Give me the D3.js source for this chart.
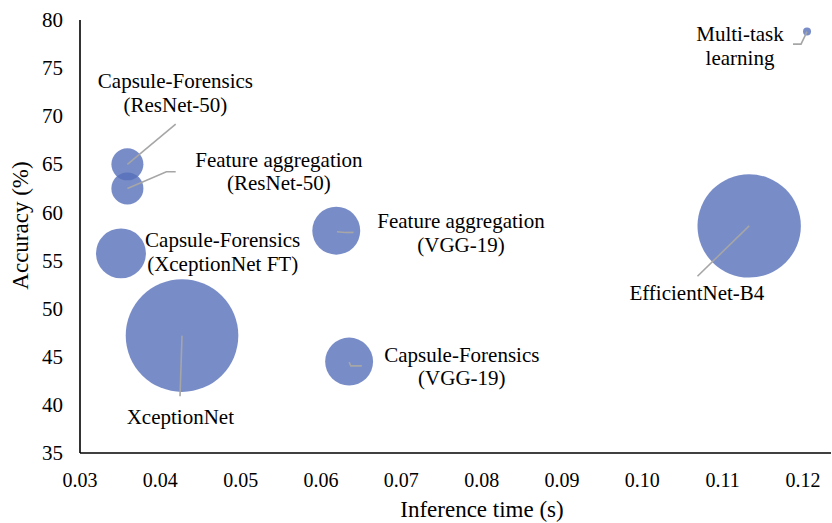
<!DOCTYPE html>
<html>
<head>
<meta charset="utf-8">
<script src="https://cdn.jsdelivr.net/npm/d3@7"></script>
<style>
  html, body { margin: 0; padding: 0; background: #fff; }
  svg { display: block; font-family: "Liberation Serif", "Times New Roman", serif; }
</style>
</head>
<body>
<svg id="chart" width="832" height="523"></svg>
<script>
// ---- data ----
const models = ["Multi-task learning", "Capsule-Forensics (ResNet-50)", "Feature aggregation (ResNet-50)",
  "Capsule-Forensics (XceptionNet FT)", "Feature aggregation (VGG-19)", "XceptionNet",
  "Capsule-Forensics (VGG-19)", "EfficientNet-B4"];
const labelLines = [["Multi-task", "learning"], ["Capsule-Forensics", "(ResNet-50)"], ["Feature aggregation", "(ResNet-50)"],
  ["Capsule-Forensics", "(XceptionNet FT)"], ["Feature aggregation", "(VGG-19)"], ["XceptionNet"],
  ["Capsule-Forensics", "(VGG-19)"], ["EfficientNet-B4"]];
const inferenceTime = [0.1205, 0.0359, 0.0359, 0.0351, 0.0619, 0.0427, 0.0635, 0.1133];
const accuracy = [78.8, 65.0, 62.5, 55.75, 58.1, 47.2, 44.5, 58.6];
const modelSize = [0.116, 1.85, 1.85, 4.5, 4.15, 22.9, 4.15, 19.3];
const xTicks = [0.03, 0.04, 0.05, 0.06, 0.07, 0.08, 0.09, 0.10, 0.11, 0.12];
const yTicks = [35, 40, 45, 50, 55, 60, 65, 70, 75, 80];

// ---- label layout (pixel offsets from bubble centre) ----
const labelOffset = [[-67, 9.5], [48, -76], [151.5, -21.5], [101.7, -6], [124.7, -2.4], [-1.7, 88], [112.7, 0], [-52.3, 74.3]];
const leaderPts = [
  [[0, 0], [-6, 12.6], [-14, 12.6]],
  [[0, 0], [48.3, -40.3]],
  [[0, 0], [39, -16.6], [48.3, -16.6]],
  [],
  [[0.7, 1], [9, 1.8], [17.3, 1.6]],
  [[0, 0], [-2, 60.7]],
  [[0, 0.6], [1.7, 4.3], [12.7, 4.3]],
  [[0, 0], [-51.7, 50.3]]
];

const svg = d3.select("#chart");
const x = d3.scaleLinear().domain([0.03, 0.12]).range([80, 803]);
const y = d3.scaleLinear().domain([35, 80]).range([453, 20]);
const r = d3.scaleSqrt().domain([0, 22.9]).range([0, 56.3]);

const data = models.map((m, i) => ({
  name: m, lines: labelLines[i], x: inferenceTime[i], y: accuracy[i], s: modelSize[i],
  off: labelOffset[i], leader: leaderPts[i]
}));

// axes lines
svg.append("line").attr("x1", x(0.03)).attr("x2", 831).attr("y1", y(35)).attr("y2", y(35))
  .attr("stroke", "#000").attr("stroke-width", 1.6);
svg.append("line").attr("x1", x(0.03)).attr("x2", x(0.03)).attr("y1", y(35)).attr("y2", y(80))
  .attr("stroke", "#000").attr("stroke-width", 1.6);

// tick labels
svg.append("g").selectAll("text").data(xTicks).join("text")
  .attr("x", d => x(d)).attr("y", 487).attr("text-anchor", "middle")
  .attr("font-size", 20).attr("fill", "#000")
  .text(d => d3.format(".2f")(d));
svg.append("g").selectAll("text").data(yTicks).join("text")
  .attr("x", x(0.03) - 17).attr("y", d => y(d)).attr("dy", "0.34em").attr("text-anchor", "end")
  .attr("font-size", 21).attr("fill", "#000")
  .text(d => d);

// axis titles
svg.append("text").attr("x", 482).attr("y", 517).attr("text-anchor", "middle")
  .attr("font-size", 23).attr("fill", "#000").text("Inference time (s)");
svg.append("text").attr("transform", "translate(28,225.5) rotate(-90)").attr("text-anchor", "middle")
  .attr("font-size", 23).attr("fill", "#000").text("Accuracy (%)");

// bubbles
svg.append("g").selectAll("circle").data(data).join("circle")
  .attr("cx", d => x(d.x)).attr("cy", d => y(d.y)).attr("r", d => r(d.s))
  .attr("fill", "#566fba").attr("fill-opacity", 0.8);

// leader lines
const line = d3.line();
svg.append("g").selectAll("path").data(data.filter(d => d.leader.length)).join("path")
  .attr("d", d => line(d.leader.map(p => [x(d.x) + p[0], y(d.y) + p[1]])))
  .attr("fill", "none").attr("stroke", "#a6a6a6").attr("stroke-width", 1.6);

// data labels
const lbl = svg.append("g").selectAll("text").data(data).join("text")
  .attr("x", d => x(d.x) + d.off[0]).attr("y", d => y(d.y) + d.off[1])
  .attr("text-anchor", "middle").attr("font-size", 21).attr("fill", "#000");
lbl.selectAll("tspan").data(d => d.lines.map(t => ({ t, d }))).join("tspan")
  .attr("x", o => x(o.d.x) + o.d.off[0]).attr("dy", (o, i) => i === 0 ? 0 : 23.5)
  .text(o => o.t);
</script>
</body>
</html>
